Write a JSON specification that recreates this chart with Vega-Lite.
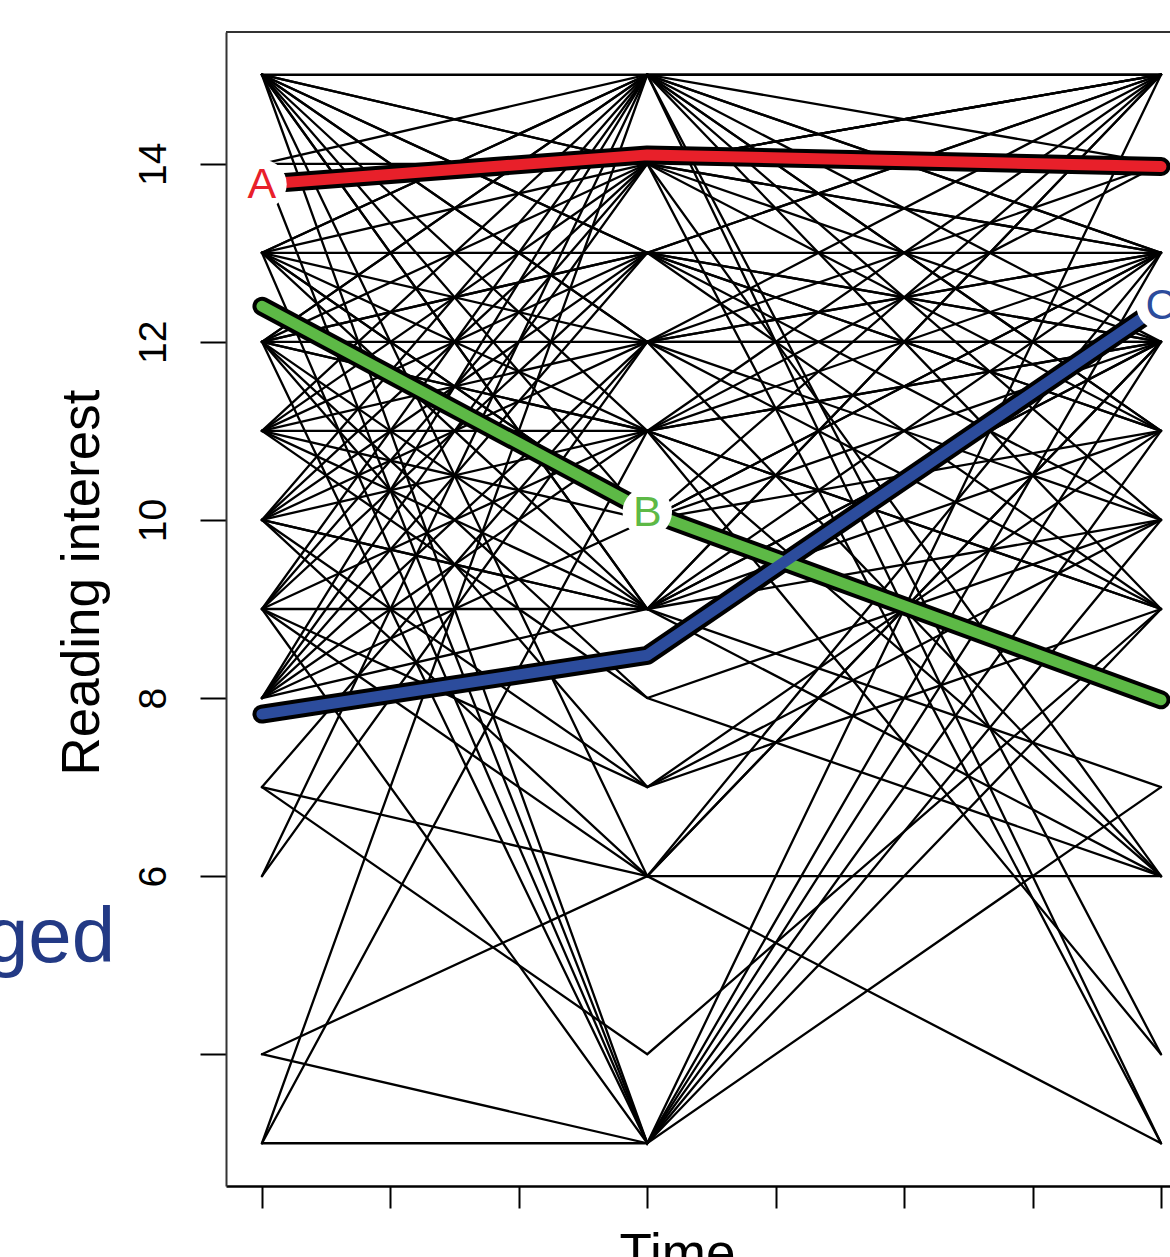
{
  "$schema": "https://vega.github.io/schema/vega-lite/v6.json",
  "width": 944,
  "height": 1154,
  "autosize": {"type": "none"},
  "padding": {"left": 226, "top": 32, "right": 0, "bottom": 71},
  "background": "white",
  "config": {"view": {"stroke": null}, "font": "Liberation Sans"},
  "datasets": {
    "subjects": [
      {"id":1,"t":1,"v":3},{"id":1,"t":4,"v":3},{"id":1,"t":8,"v":15},
      {"id":2,"t":1,"v":4},{"id":2,"t":4,"v":3},{"id":2,"t":8,"v":11},
      {"id":3,"t":1,"v":4},{"id":3,"t":4,"v":6},{"id":3,"t":8,"v":3},
      {"id":4,"t":1,"v":3},{"id":4,"t":4,"v":15},{"id":4,"t":8,"v":15},
      {"id":5,"t":1,"v":3},{"id":5,"t":4,"v":11},{"id":5,"t":8,"v":9},
      {"id":6,"t":1,"v":6},{"id":6,"t":4,"v":15},{"id":6,"t":8,"v":13},
      {"id":7,"t":1,"v":6},{"id":7,"t":4,"v":12},{"id":7,"t":8,"v":12},
      {"id":8,"t":1,"v":7},{"id":8,"t":4,"v":6},{"id":8,"t":8,"v":6},
      {"id":9,"t":1,"v":9},{"id":9,"t":4,"v":3},{"id":9,"t":8,"v":7},
      {"id":10,"t":1,"v":10},{"id":10,"t":4,"v":6},{"id":10,"t":8,"v":12},
      {"id":11,"t":1,"v":7},{"id":11,"t":4,"v":4},{"id":11,"t":8,"v":9},
      {"id":12,"t":1,"v":15},{"id":12,"t":4,"v":3},{"id":12,"t":8,"v":12},
      {"id":13,"t":1,"v":14},{"id":13,"t":4,"v":3},{"id":13,"t":8,"v":9},
      {"id":14,"t":1,"v":13},{"id":14,"t":4,"v":3},{"id":14,"t":8,"v":13},
      {"id":15,"t":1,"v":12},{"id":15,"t":4,"v":3},{"id":15,"t":8,"v":10},
      {"id":16,"t":1,"v":15},{"id":16,"t":4,"v":6},{"id":16,"t":8,"v":12},
      {"id":17,"t":1,"v":9},{"id":17,"t":4,"v":6},{"id":17,"t":8,"v":13},
      {"id":18,"t":1,"v":10},{"id":18,"t":4,"v":7},{"id":18,"t":8,"v":9},
      {"id":19,"t":1,"v":9},{"id":19,"t":4,"v":7},{"id":19,"t":8,"v":11},
      {"id":20,"t":1,"v":11},{"id":20,"t":4,"v":8},{"id":20,"t":8,"v":10},
      {"id":21,"t":1,"v":12},{"id":21,"t":4,"v":8},{"id":21,"t":8,"v":6},
      {"id":22,"t":1,"v":15},{"id":22,"t":4,"v":15},{"id":22,"t":8,"v":15},
      {"id":23,"t":1,"v":15},{"id":23,"t":4,"v":14},{"id":23,"t":8,"v":13},
      {"id":24,"t":1,"v":15},{"id":24,"t":4,"v":13},{"id":24,"t":8,"v":15},
      {"id":25,"t":1,"v":15},{"id":25,"t":4,"v":13},{"id":25,"t":8,"v":11},
      {"id":26,"t":1,"v":15},{"id":26,"t":4,"v":12},{"id":26,"t":8,"v":10},
      {"id":27,"t":1,"v":15},{"id":27,"t":4,"v":11},{"id":27,"t":8,"v":14},
      {"id":28,"t":1,"v":15},{"id":28,"t":4,"v":10},{"id":28,"t":8,"v":12},
      {"id":29,"t":1,"v":15},{"id":29,"t":4,"v":9},{"id":29,"t":8,"v":15},
      {"id":30,"t":1,"v":15},{"id":30,"t":4,"v":9},{"id":30,"t":8,"v":12},
      {"id":31,"t":1,"v":15},{"id":31,"t":4,"v":12},{"id":31,"t":8,"v":13},
      {"id":32,"t":1,"v":15},{"id":32,"t":4,"v":14},{"id":32,"t":8,"v":15},
      {"id":33,"t":1,"v":14},{"id":33,"t":4,"v":15},{"id":33,"t":8,"v":13},
      {"id":34,"t":1,"v":14},{"id":34,"t":4,"v":14},{"id":34,"t":8,"v":12},
      {"id":35,"t":1,"v":13},{"id":35,"t":4,"v":15},{"id":35,"t":8,"v":11},
      {"id":36,"t":1,"v":13},{"id":36,"t":4,"v":15},{"id":36,"t":8,"v":4},
      {"id":37,"t":1,"v":13},{"id":37,"t":4,"v":14},{"id":37,"t":8,"v":15},
      {"id":38,"t":1,"v":13},{"id":38,"t":4,"v":13},{"id":38,"t":8,"v":12},
      {"id":39,"t":1,"v":13},{"id":39,"t":4,"v":12},{"id":39,"t":8,"v":15},
      {"id":40,"t":1,"v":13},{"id":40,"t":4,"v":11},{"id":40,"t":8,"v":9},
      {"id":41,"t":1,"v":13},{"id":41,"t":4,"v":10},{"id":41,"t":8,"v":13},
      {"id":42,"t":1,"v":13},{"id":42,"t":4,"v":9},{"id":42,"t":8,"v":6},
      {"id":43,"t":1,"v":12},{"id":43,"t":4,"v":15},{"id":43,"t":8,"v":10},
      {"id":44,"t":1,"v":12},{"id":44,"t":4,"v":15},{"id":44,"t":8,"v":3},
      {"id":45,"t":1,"v":12},{"id":45,"t":4,"v":14},{"id":45,"t":8,"v":11},
      {"id":46,"t":1,"v":12},{"id":46,"t":4,"v":13},{"id":46,"t":8,"v":15},
      {"id":47,"t":1,"v":12},{"id":47,"t":4,"v":13},{"id":47,"t":8,"v":9},
      {"id":48,"t":1,"v":12},{"id":48,"t":4,"v":12},{"id":48,"t":8,"v":13},
      {"id":49,"t":1,"v":12},{"id":49,"t":4,"v":11},{"id":49,"t":8,"v":15},
      {"id":50,"t":1,"v":12},{"id":50,"t":4,"v":11},{"id":50,"t":8,"v":6},
      {"id":51,"t":1,"v":12},{"id":51,"t":4,"v":9},{"id":51,"t":8,"v":12},
      {"id":52,"t":1,"v":12},{"id":52,"t":4,"v":7},{"id":52,"t":8,"v":10},
      {"id":53,"t":1,"v":11},{"id":53,"t":4,"v":15},{"id":53,"t":8,"v":12},
      {"id":54,"t":1,"v":11},{"id":54,"t":4,"v":14},{"id":54,"t":8,"v":3},
      {"id":55,"t":1,"v":11},{"id":55,"t":4,"v":13},{"id":55,"t":8,"v":11},
      {"id":56,"t":1,"v":11},{"id":56,"t":4,"v":12},{"id":56,"t":8,"v":14},
      {"id":57,"t":1,"v":11},{"id":57,"t":4,"v":11},{"id":57,"t":8,"v":13},
      {"id":58,"t":1,"v":11},{"id":58,"t":4,"v":10},{"id":58,"t":8,"v":15},
      {"id":59,"t":1,"v":11},{"id":59,"t":4,"v":9},{"id":59,"t":8,"v":11},
      {"id":60,"t":1,"v":10},{"id":60,"t":4,"v":15},{"id":60,"t":8,"v":9},
      {"id":61,"t":1,"v":10},{"id":61,"t":4,"v":14},{"id":61,"t":8,"v":6},
      {"id":62,"t":1,"v":10},{"id":62,"t":4,"v":13},{"id":62,"t":8,"v":10},
      {"id":63,"t":1,"v":10},{"id":63,"t":4,"v":12},{"id":63,"t":8,"v":9},
      {"id":64,"t":1,"v":10},{"id":64,"t":4,"v":11},{"id":64,"t":8,"v":12},
      {"id":65,"t":1,"v":10},{"id":65,"t":4,"v":9},{"id":65,"t":8,"v":15},
      {"id":66,"t":1,"v":10},{"id":66,"t":4,"v":9},{"id":66,"t":8,"v":13},
      {"id":67,"t":1,"v":9},{"id":67,"t":4,"v":15},{"id":67,"t":8,"v":14},
      {"id":68,"t":1,"v":9},{"id":68,"t":4,"v":14},{"id":68,"t":8,"v":13},
      {"id":69,"t":1,"v":9},{"id":69,"t":4,"v":13},{"id":69,"t":8,"v":12},
      {"id":70,"t":1,"v":9},{"id":70,"t":4,"v":11},{"id":70,"t":8,"v":4},
      {"id":71,"t":1,"v":9},{"id":71,"t":4,"v":9},{"id":71,"t":8,"v":7},
      {"id":72,"t":1,"v":8},{"id":72,"t":4,"v":15},{"id":72,"t":8,"v":11},
      {"id":73,"t":1,"v":8},{"id":73,"t":4,"v":14},{"id":73,"t":8,"v":15},
      {"id":74,"t":1,"v":8},{"id":74,"t":4,"v":13},{"id":74,"t":8,"v":13},
      {"id":75,"t":1,"v":8},{"id":75,"t":4,"v":12},{"id":75,"t":8,"v":6},
      {"id":76,"t":1,"v":8},{"id":76,"t":4,"v":11},{"id":76,"t":8,"v":12},
      {"id":77,"t":1,"v":8},{"id":77,"t":4,"v":9},{"id":77,"t":8,"v":10},
      {"id":78,"t":1,"v":7},{"id":78,"t":4,"v":12},{"id":78,"t":8,"v":12},
      {"id":79,"t":1,"v":13},{"id":79,"t":4,"v":10},{"id":79,"t":8,"v":11},
      {"id":80,"t":1,"v":8},{"id":80,"t":4,"v":10},{"id":80,"t":8,"v":13}
    ],
    "highlight": [
      {"s":"A","t":1,"v":13.77},{"s":"A","t":4,"v":14.1},{"s":"A","t":8,"v":13.97},
      {"s":"B","t":1,"v":12.4},{"s":"B","t":4,"v":10.09},{"s":"B","t":8,"v":7.98},
      {"s":"C","t":1,"v":7.82},{"s":"C","t":4,"v":8.48},{"s":"C","t":8,"v":12.41}
    ]
  },
  "layer": [
    {
      "data": {"name": "subjects"},
      "mark": {"type": "line", "color": "black", "strokeWidth": 2.3, "strokeCap": "round"},
      "encoding": {
        "x": {
          "field": "t", "type": "quantitative",
          "scale": {"domain": [0.72, 8.07], "nice": false, "zero": false},
          "axis": {
            "values": [1, 2, 3, 4, 5, 6, 7, 8],
            "labels": false, "grid": false,
            "tickSize": 22, "tickWidth": 2, "tickColor": "black",
            "domainColor": "black", "domainWidth": 2.5,
            "title": "Time", "titleFontSize": 53, "titleFontWeight": "normal",
            "titleFont": "Liberation Sans", "titleColor": "black",
            "titleX": 451, "titleY": 84, "titleAlign": "center", "titleBaseline": "alphabetic"
          }
        },
        "y": {
          "field": "v", "type": "quantitative",
          "scale": {"domain": [2.52, 15.48], "nice": false, "zero": false},
          "axis": {
            "values": [4, 6, 8, 10, 12, 14],
            "labelExpr": "datum.value == 4 ? '' : format(datum.value, 'd')",
            "grid": false,
            "tickSize": 26, "tickWidth": 2, "tickColor": "black",
            "domainColor": "#333333", "domainWidth": 2,
            "labelFontSize": 39, "labelFont": "Liberation Sans", "labelColor": "black",
            "labelAngle": -90, "labelAlign": "center", "labelBaseline": "alphabetic",
            "labelPadding": 35, "labelOverlap": false,
            "title": "Reading interest", "titleFontSize": 53, "titleFontWeight": "normal",
            "titleFont": "Liberation Sans", "titleColor": "black",
            "titleAngle": -90, "titleX": -128, "titleY": 550,
            "titleAlign": "center", "titleBaseline": "alphabetic"
          }
        },
        "detail": {"field": "id", "type": "nominal"}
      }
    },
    {
      "data": {"values": [{}]},
      "mark": {"type": "rule", "color": "#333333", "strokeWidth": 2},
      "encoding": {
        "y": {"datum": 15.48, "type": "quantitative", "scale": {"domain": [2.52, 15.48], "nice": false, "zero": false}}
      }
    },
    {
      "data": {"name": "highlight"},
      "mark": {"type": "line", "color": "black", "strokeWidth": 19, "strokeCap": "round", "strokeJoin": "round"},
      "encoding": {
        "x": {"field": "t", "type": "quantitative", "scale": {"domain": [0.72, 8.07], "nice": false, "zero": false}},
        "y": {"field": "v", "type": "quantitative", "scale": {"domain": [2.52, 15.48], "nice": false, "zero": false}},
        "detail": {"field": "s", "type": "nominal"}
      }
    },
    {
      "data": {"name": "highlight"},
      "mark": {"type": "line", "strokeWidth": 11, "strokeCap": "round", "strokeJoin": "round"},
      "encoding": {
        "x": {"field": "t", "type": "quantitative", "scale": {"domain": [0.72, 8.07], "nice": false, "zero": false}},
        "y": {"field": "v", "type": "quantitative", "scale": {"domain": [2.52, 15.48], "nice": false, "zero": false}},
        "color": {"field": "s", "type": "nominal", "scale": {"domain": ["A", "B", "C"], "range": ["#E8202A", "#5DB946", "#2C4C9C"]}, "legend": null}
      }
    },
    {
      "data": {"name": "highlight"},
      "transform": [{"filter": "(datum.s == 'A' && datum.t == 1) || (datum.s == 'B' && datum.t == 4) || (datum.s == 'C' && datum.t == 8)"}],
      "mark": {"type": "point", "shape": "circle", "filled": true, "color": "white", "opacity": 1, "size": 2450, "strokeWidth": 0},
      "encoding": {
        "x": {"field": "t", "type": "quantitative", "scale": {"domain": [0.72, 8.07], "nice": false, "zero": false}},
        "y": {"field": "v", "type": "quantitative", "scale": {"domain": [2.52, 15.48], "nice": false, "zero": false}}
      }
    },
    {
      "data": {"name": "highlight"},
      "transform": [{"filter": "(datum.s == 'A' && datum.t == 1) || (datum.s == 'B' && datum.t == 4) || (datum.s == 'C' && datum.t == 8)"}],
      "mark": {"type": "text", "fontSize": 43, "font": "Liberation Sans", "align": "center", "baseline": "middle", "dy": 1},
      "encoding": {
        "x": {"field": "t", "type": "quantitative", "scale": {"domain": [0.72, 8.07], "nice": false, "zero": false}},
        "y": {"field": "v", "type": "quantitative", "scale": {"domain": [2.52, 15.48], "nice": false, "zero": false}},
        "text": {"field": "s", "type": "nominal"},
        "color": {"field": "s", "type": "nominal", "scale": {"domain": ["A", "B", "C"], "range": ["#E8202A", "#5DB946", "#2C4C9C"]}, "legend": null}
      }
    },
    {
      "data": {"values": [{}]},
      "mark": {"type": "text", "text": "ged", "fontSize": 78, "font": "Liberation Sans", "color": "#233A85", "align": "right", "baseline": "alphabetic", "clip": false},
      "encoding": {
        "x": {"datum": -0.144, "type": "quantitative", "scale": {"domain": [0.72, 8.07], "nice": false, "zero": false}},
        "y": {"datum": 5.035, "type": "quantitative", "scale": {"domain": [2.52, 15.48], "nice": false, "zero": false}}
      }
    }
  ]
}
